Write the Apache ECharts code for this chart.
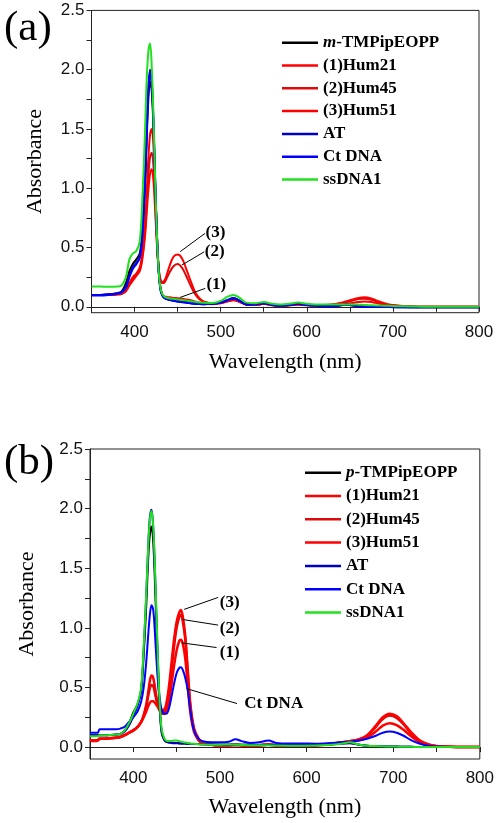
<!DOCTYPE html>
<html><head><meta charset="utf-8">
<script src="https://cdn.jsdelivr.net/npm/echarts@6/dist/echarts.min.js"></script>
<style>
html,body{margin:0;padding:0;background:#fff;width:497px;height:823px;overflow:hidden}
#a{position:absolute;left:0;top:0;width:497px;height:400px}
#b{position:absolute;left:0;top:400px;width:497px;height:423px}
</style>
</head><body><div id="a"></div><div id="b"></div>
<script>
// ---------- Panel (a) data ----------
const namesA = ['m-TMPipEOPP','(1)Hum21','(2)Hum45','(3)Hum51','AT','Ct DNA','ssDNA1'];
const wlA = [350,360,370,380,385,390,394,398,402,
  406,409,412,414,416,418,420,422,424,426,428,430,432,434,436,
  440,445,450,455,460,465,470,475,480,490,500,
  508,515,522,530,540,550,560,570,580,590,600,610,620,
  630,640,645,650,660,667,675,685,695,705,720,740,760,780,800];
const blackA = [0.10,0.10,0.105,0.115,0.13,0.20,0.30,0.36,0.40,
  0.45,0.62,1.00,1.40,1.75,1.90,1.82,1.50,1.02,0.60,0.30,0.16,0.10,0.08,0.072,
  0.062,0.055,0.05,0.045,0.04,0.035,0.03,0.027,0.025,0.027,0.037,
  0.058,0.075,0.052,0.022,0.022,0.032,0.017,0.012,0.017,0.027,0.017,0.012,0.008,
  0.008,0.014,0.02,0.016,0.007,0.004,0.002,0.001,0,-0.002,-0.003,-0.004,-0.004,-0.004,-0.004];
const hum21A = [0.10,0.10,0.10,0.105,0.11,0.14,0.20,0.25,0.28,
  0.33,0.45,0.70,0.95,1.25,1.45,1.50,1.35,1.00,0.60,0.32,0.17,0.11,0.09,0.085,
  0.08,0.075,0.072,0.068,0.062,0.055,0.045,0.035,0.028,0.022,0.03,
  0.045,0.055,0.04,0.018,0.015,0.025,0.012,0.008,0.012,0.02,0.012,0.01,0.01,
  0.012,0.018,0.022,0.028,0.04,0.045,0.04,0.025,0.012,0.006,0.002,0,0,0,0];
const hum45A = [0.10,0.10,0.10,0.105,0.11,0.14,0.19,0.23,0.27,
  0.31,0.42,0.62,0.85,1.10,1.26,1.30,1.18,0.88,0.55,0.32,0.23,0.20,0.20,0.22,
  0.28,0.34,0.36,0.33,0.26,0.18,0.11,0.065,0.042,0.028,0.032,
  0.048,0.058,0.043,0.019,0.015,0.025,0.013,0.009,0.013,0.02,0.014,0.013,0.014,
  0.018,0.028,0.035,0.045,0.065,0.068,0.06,0.035,0.018,0.009,0.003,0,0,0,0];
const hum51A = [0.10,0.10,0.10,0.105,0.11,0.13,0.18,0.22,0.26,
  0.30,0.40,0.58,0.78,0.98,1.12,1.16,1.06,0.80,0.52,0.32,0.23,0.21,0.215,0.24,
  0.33,0.42,0.44,0.41,0.32,0.22,0.13,0.075,0.045,0.03,0.034,
  0.05,0.06,0.045,0.02,0.015,0.025,0.014,0.01,0.014,0.02,0.015,0.015,0.016,
  0.022,0.035,0.045,0.055,0.075,0.08,0.07,0.042,0.02,0.01,0.003,0,0,0,0];
const atA = [0.10,0.10,0.105,0.115,0.125,0.17,0.26,0.33,0.37,
  0.42,0.62,1.05,1.45,1.85,2.00,1.90,1.55,1.05,0.60,0.30,0.15,0.10,0.08,0.07,
  0.06,0.052,0.045,0.04,0.035,0.03,0.026,0.023,0.022,0.025,0.035,
  0.055,0.07,0.05,0.02,0.02,0.03,0.015,0.01,0.015,0.025,0.015,0.01,0.005,
  0.005,0.012,0.018,0.014,0.005,0.002,0,0,-0.002,-0.003,-0.003,-0.004,-0.004,-0.004,-0.004];
const ctA = [0.095,0.095,0.10,0.11,0.12,0.16,0.25,0.32,0.36,
  0.41,0.60,1.02,1.42,1.82,1.97,1.88,1.53,1.04,0.60,0.30,0.15,0.10,0.078,0.068,
  0.058,0.05,0.044,0.039,0.034,0.03,0.026,0.023,0.022,0.025,0.035,
  0.056,0.072,0.05,0.02,0.02,0.03,0.015,0.01,0.015,0.025,0.015,0.01,0.005,
  0.005,0.013,0.019,0.015,0.006,0.002,0,0,-0.002,-0.003,-0.003,-0.004,-0.004,-0.004,-0.004];
const ssA = [0.17,0.17,0.168,0.17,0.18,0.25,0.40,0.45,0.47,
  0.55,0.90,1.45,1.90,2.15,2.22,2.02,1.60,1.05,0.60,0.30,0.16,0.11,0.09,0.08,
  0.072,0.067,0.062,0.057,0.052,0.047,0.042,0.037,0.033,0.032,0.05,
  0.085,0.10,0.075,0.035,0.03,0.04,0.025,0.02,0.025,0.035,0.025,0.02,0.02,
  0.02,0.02,0.02,0.02,0.018,0.015,0.012,0.01,0.008,0.005,0.003,0,0,0,0];
// annotation arrows [x1,y1,x2,y2] and labels [text,x,y] (data units)
const arrowsA = [[482,0.62,453,0.465],[481,0.464,455,0.352],[482,0.155,453,0.079]];
const labelsA = [['(3)',494,0.626],['(2)',493,0.464],['(1)',495,0.19]];

// ---------- Panel (b) data ----------
const namesB = ['p-TMPipEOPP','(1)Hum21','(2)Hum45','(3)Hum51','AT','Ct DNA','ssDNA1'];
const wlB = [350,355,359,361,365,370,380,385,390,395,400,
  405,409,412,415,417,419,421,423,425,427,429,431,433,
  436,438,441,444,447,450,453,455,457,460,463,466,470,475,480,
  490,500,510,518,525,535,545,556,565,580,595,610,625,
  640,650,660,670,680,688,696,704,712,720,730,740,750,765,780,800];
const blackB = [0.10,0.10,0.10,0.10,0.10,0.10,0.105,0.11,0.14,0.20,0.29,
  0.36,0.47,0.78,1.20,1.55,1.78,1.85,1.72,1.38,0.95,0.55,0.26,0.11,
  0.055,0.045,0.04,0.038,0.036,0.034,0.032,0.031,0.03,0.029,0.028,0.027,0.026,0.025,0.024,
  0.022,0.02,0.02,0.02,0.02,0.018,0.018,0.018,0.016,0.015,0.015,0.016,0.02,
  0.028,0.035,0.02,0.012,0.008,0.006,0.005,0.004,0.003,0.002,0.001,0,0,0,0,0];
const hum21B = [0.06,0.055,0.06,0.07,0.07,0.072,0.078,0.085,0.10,0.12,0.14,
  0.17,0.21,0.27,0.36,0.45,0.55,0.60,0.58,0.50,0.41,0.34,0.30,0.28,
  0.28,0.30,0.38,0.52,0.68,0.81,0.89,0.90,0.87,0.74,0.50,0.28,0.13,0.06,0.03,
  0.02,0.015,0.015,0.018,0.015,0.012,0.014,0.02,0.014,0.012,0.012,0.015,0.022,
  0.035,0.045,0.055,0.08,0.13,0.18,0.20,0.185,0.145,0.095,0.045,0.018,0.007,0.002,0,0];
const hum45B = [0.06,0.055,0.058,0.07,0.07,0.072,0.078,0.085,0.10,0.12,0.14,
  0.17,0.21,0.26,0.34,0.42,0.49,0.52,0.51,0.45,0.38,0.33,0.30,0.29,
  0.30,0.33,0.45,0.64,0.84,1.00,1.09,1.11,1.06,0.90,0.60,0.33,0.15,0.07,0.035,
  0.02,0.015,0.015,0.018,0.015,0.012,0.014,0.02,0.014,0.012,0.012,0.016,0.025,
  0.04,0.05,0.062,0.095,0.17,0.235,0.265,0.245,0.19,0.12,0.055,0.022,0.008,0.002,0,0];
const hum51B = [0.055,0.05,0.055,0.068,0.07,0.072,0.078,0.085,0.10,0.12,0.14,
  0.17,0.21,0.25,0.30,0.34,0.37,0.385,0.385,0.37,0.35,0.33,0.31,0.305,
  0.32,0.36,0.50,0.70,0.90,1.05,1.13,1.15,1.10,0.93,0.63,0.35,0.16,0.075,0.037,
  0.02,0.015,0.015,0.018,0.015,0.012,0.014,0.02,0.014,0.012,0.012,0.016,0.025,
  0.04,0.05,0.065,0.10,0.18,0.25,0.28,0.26,0.20,0.13,0.06,0.025,0.01,0.003,0,0];
const atB = [0.10,0.10,0.10,0.10,0.10,0.10,0.105,0.11,0.13,0.18,0.26,
  0.35,0.48,0.82,1.28,1.65,1.92,1.99,1.84,1.48,1.02,0.60,0.28,0.12,
  0.06,0.045,0.038,0.035,0.033,0.032,0.031,0.03,0.03,0.029,0.028,0.027,0.026,0.025,0.024,
  0.023,0.022,0.022,0.022,0.02,0.02,0.02,0.02,0.02,0.02,0.02,0.022,0.025,
  0.03,0.032,0.022,0.012,0.008,0.006,0.005,0.004,0.003,0.002,0.001,0,0,0,0,0];
const ctB = [0.12,0.12,0.12,0.15,0.15,0.15,0.15,0.155,0.17,0.21,0.25,
  0.30,0.38,0.50,0.72,0.92,1.10,1.19,1.15,0.95,0.70,0.50,0.38,0.31,
  0.28,0.28,0.32,0.42,0.53,0.62,0.665,0.67,0.65,0.58,0.47,0.30,0.14,0.07,0.05,
  0.04,0.04,0.045,0.065,0.05,0.035,0.04,0.055,0.035,0.03,0.03,0.028,0.032,
  0.04,0.045,0.055,0.07,0.095,0.12,0.13,0.12,0.095,0.06,0.03,0.012,0.005,0.001,0,0];
const ssB = [0.09,0.09,0.09,0.10,0.10,0.10,0.105,0.11,0.14,0.20,0.28,
  0.37,0.50,0.85,1.30,1.65,1.90,1.98,1.85,1.50,1.05,0.62,0.30,0.14,
  0.07,0.055,0.05,0.052,0.056,0.055,0.05,0.046,0.042,0.038,0.034,0.03,0.027,0.024,0.022,
  0.02,0.02,0.022,0.02,0.018,0.016,0.016,0.015,0.013,0.012,0.012,0.013,0.018,
  0.028,0.04,0.022,0.012,0.008,0.006,0.005,0.004,0.003,0.002,0.001,0,0,0,0,0];
const arrowsB = [[497.9,1.255,458.7,1.155],[497.9,1.023,456.9,1.07],[496,0.835,455.8,0.874],[519.7,0.365,461.5,0.49]];
const labelsB = [['(3)',511.3,1.209],['(2)',511.3,0.995],['(1)',511.3,0.79],['Ct DNA',562,0.365]];

// tick labels
const xLabels = [400,500,600,700,800];
const xTicks = [350,400,450,500,550,600,650,700,750,800];
const yLabels = [0,0.5,1.0,1.5,2.0,2.5];
const yTicks = [0,0.25,0.5,0.75,1.0,1.25,1.5,1.75,2.0,2.25,2.5];

const colors = ['#000000','#ff0000','#dd0a0a','#ff0000','#0000c0','#0000ff','#20e020'];
const SERIF = '"Liberation Serif","Times New Roman",serif';
const SANS = '"Liberation Sans",Arial,sans-serif';

function buildOption(p){
  const series = p.names.map((n,i)=>({
    name:n, type:'line', symbol:'none', smooth:0.35, silent:true,
    data:p.wl.map((w,j)=>[w,p.vals[i][j]]),
    lineStyle:{width:(i>=1&&i<=3)?p.redWidth:2,color:colors[i]}, itemStyle:{color:colors[i]}
  }));
  series[0].markLine = {
    silent:true, symbol:['none','arrow'], symbolSize:[0,7],
    lineStyle:{color:'#000',width:1,type:'solid'}, label:{show:false},
    data:p.arrows.map(a=>[{coord:[a[0],a[1]]},{coord:[a[2],a[3]]}])
  };
  series[0].markPoint = {
    silent:true, symbol:'rect', symbolSize:1, itemStyle:{color:'rgba(0,0,0,0)'},
    label:{show:true,position:'inside',color:'#000',fontFamily:SERIF,fontWeight:'bold',fontSize:17,formatter:q=>q.name},
    data:p.labels.map(l=>({name:l[0],coord:[l[1],l[2]]}))
  };
  return {
    animation:false,
    graphic:[{type:'text',left:4,top:p.tagTop,style:{text:p.tag,font:'43px '+SERIF,fill:'#000'}}],
    grid:{left:p.grid[0],top:p.grid[1],width:p.grid[2],height:p.grid[3],show:true,borderColor:'#222',borderWidth:1,backgroundColor:'transparent'},
    legend:{
      orient:'vertical', left:p.legend[0], top:p.legend[1], itemWidth:36, itemHeight:2.5, itemGap:p.legend[2],
      padding:0, icon:'rect', selectedMode:false,
      textStyle:{fontFamily:SERIF,fontWeight:'bold',fontSize:17,color:'#000',lineHeight:20,
        rich:{i:{fontFamily:SERIF,fontWeight:'bold',fontStyle:'italic',fontSize:17,color:'#000',lineHeight:20}}},
      formatter:n=>n.indexOf('-TMP')===1?'{i|'+n[0]+'}'+n.slice(1):n,
      data:p.names
    },
    xAxis:{
      type:'value', min:350, max:800,
      name:'Wavelength (nm)', nameLocation:'middle', nameGap:p.xNameGap,
      nameTextStyle:{fontFamily:SERIF,fontSize:22,color:'#000'},
      axisLine:{show:true,lineStyle:{color:'#222',width:1}},
      axisTick:{show:true,inside:false,length:5,customValues:xTicks,lineStyle:{color:'#222'}},
      axisLabel:{customValues:xLabels,margin:11,fontFamily:SANS,fontSize:17,color:'#111'},
      splitLine:{show:false}
    },
    yAxis:{
      type:'value', min:p.ymin, max:2.5,
      name:'Absorbance', nameLocation:'middle', nameRotate:90, nameGap:p.yNameGap,
      nameTextStyle:{fontFamily:SERIF,fontSize:22,color:'#000'},
      axisLine:{show:true,lineStyle:{color:'#222',width:1}},
      axisTick:{show:true,inside:false,length:5,customValues:yTicks,lineStyle:{color:'#222'}},
      axisLabel:{customValues:yLabels,margin:7,fontFamily:SANS,fontSize:17,color:'#111',formatter:v=>Number(v).toFixed(1)},
      splitLine:{show:false}
    },
    series
  };
}

const chartA = echarts.init(document.getElementById('a'),null,{renderer:'canvas'});
chartA.setOption(buildOption({
  names:namesA, wl:wlA, vals:[blackA,hum21A,hum45A,hum51A,atA,ctA,ssA],
  arrows:arrowsA, labels:labelsA, tag:'(a)', tagTop:7, redWidth:2,
  grid:[91.5,10.4,387.5,302.3], legend:[282,32.7,2.8], ymin:-0.05, xNameGap:39, yNameGap:45
}));
const chartB = echarts.init(document.getElementById('b'),null,{renderer:'canvas'});
chartB.setOption(buildOption({
  names:namesB, wl:wlB, vals:[blackB,hum21B,hum45B,hum51B,atB,ctB,ssB],
  arrows:arrowsB, labels:labelsB, tag:'(b)', tagTop:41, redWidth:2.5,
  grid:[90,49,391,310.3], legend:[305,62.7,3.3], ymin:-0.1, xNameGap:37, yNameGap:52
}));
</script></body></html>
